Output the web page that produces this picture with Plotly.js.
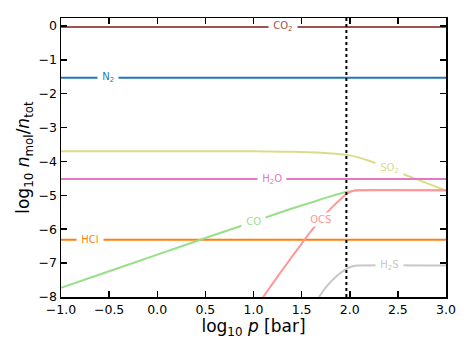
<!DOCTYPE html>
<html><head><meta charset="utf-8">
<script src="https://cdn.plot.ly/plotly-3.0.1.min.js"></script>
<style>html,body{margin:0;padding:0;background:#fff;}#chart{width:474px;height:357px;}</style>
</head><body><div id="chart"></div>
<script>
// Data (log10 p [bar] vs log10 n_mol/n_tot)
const xFlat = [-1, 3];
const co2Y = [-0.03, -0.03];
const n2Y = [-1.53, -1.53];
const h2oY = [-4.52, -4.52];
const hclY = [-6.31, -6.31];

const so2X = [-1, -0.5, 0, 0.5, 1.0, 1.3, 1.5, 1.7, 1.85, 2.0, 2.2, 2.4, 2.6, 2.8, 3.0];
const so2Y = [-3.70, -3.70, -3.70, -3.70, -3.70, -3.71, -3.72, -3.74, -3.77, -3.82, -3.98, -4.20, -4.42, -4.64, -4.86];

const coX = [-1, -0.5, 0, 0.5, 0.8, 1.0, 1.2, 1.4, 1.6, 1.8, 1.95, 2.05, 2.1, 3.0];
const coY = [-7.73, -7.24, -6.75, -6.26, -5.97, -5.78, -5.58, -5.39, -5.21, -5.03, -4.91, -4.86, -4.85, -4.85];

const ocsX = [1.10, 1.2, 1.3, 1.4, 1.53, 1.6, 1.7, 1.8, 1.9, 1.97, 2.03, 2.08, 3.0];
const ocsY = [-8.0, -7.6, -7.2, -6.81, -6.31, -6.05, -5.71, -5.40, -5.12, -4.95, -4.87, -4.85, -4.85];

const h2sX = [1.68, 1.75, 1.85, 1.95, 2.02, 2.08, 3.0];
const h2sY = [-8.0, -7.72, -7.42, -7.20, -7.10, -7.07, -7.07];

const dottedX = [1.965, 1.965];
const dottedY = [-8, 0.25];

const labels = [
  {text: 'CO<sub>2</sub>', x: 1.31, y: -0.03, color: '#a0524d'},
  {text: 'N<sub>2</sub>', x: -0.51, y: -1.53, color: '#1f77b4'},
  {text: 'SO<sub>2</sub>', x: 2.41, y: -4.21, color: '#dbdb8d'},
  {text: 'H<sub>2</sub>O', x: 1.19, y: -4.52, color: '#e377c2'},
  {text: 'CO', x: 1.0, y: -5.77, color: '#98df8a'},
  {text: 'OCS', x: 1.70, y: -5.72, color: '#ff9896'},
  {text: 'HCl', x: -0.70, y: -6.31, color: '#ff7f0e'},
  {text: 'H<sub>2</sub>S', x: 2.41, y: -7.07, color: '#c7c7c7'}
];

const traces = [
  {x: xFlat, y: co2Y, color: '#a0524d', w: 2},
  {x: xFlat, y: n2Y, color: '#1f77b4', w: 2},
  {x: so2X, y: so2Y, color: '#dbdb8d', w: 2},
  {x: xFlat, y: h2oY, color: '#e377c2', w: 2},
  {x: xFlat, y: hclY, color: '#ff7f0e', w: 2},
  {x: coX, y: coY, color: '#98df8a', w: 2},
  {x: ocsX, y: ocsY, color: '#ff9896', w: 2},
  {x: h2sX, y: h2sY, color: '#c7c7c7', w: 2}
].map(t => ({x: t.x, y: t.y, mode: 'lines', line: {color: t.color, width: t.w, shape: 'spline', smoothing: 0.6}, hoverinfo: 'skip', showlegend: false}));

traces.push({x: dottedX, y: dottedY, mode: 'lines', line: {color: '#000', width: 2, dash: 'dot'}, showlegend: false, hoverinfo: 'skip'});

const axisCommon = {
  showline: true, linecolor: '#000', linewidth: 1.5, mirror: 'ticks',
  ticks: 'inside', ticklen: 6, tickwidth: 1.5, tickcolor: '#000',
  showgrid: false, zeroline: false,
  tickfont: {family: 'DejaVu Sans', size: 12.5, color: '#000'}
};

const layout = {
  width: 474, height: 357,
  margin: {l: 61, r: 28, t: 18, b: 60},
  paper_bgcolor: '#fff', plot_bgcolor: '#fff',
  font: {family: 'DejaVu Sans'},
  xaxis: Object.assign({}, axisCommon, {
    range: [-1, 3], tickvals: [-1, -0.5, 0, 0.5, 1, 1.5, 2, 2.5, 3],
    ticktext: ['−1.0', '−0.5', '0.0', '0.5', '1.0', '1.5', '2.0', '2.5', '3.0'],
    title: {text: 'log<sub>10</sub> <i>p</i> [bar]', font: {family: 'DejaVu Sans', size: 17, color: '#000'}, standoff: 3}
  }),
  yaxis: Object.assign({}, axisCommon, {
    range: [-8, 0.235], tickvals: [0, -1, -2, -3, -4, -5, -6, -7, -8],
    title: {text: 'log<sub>10</sub> <i>n</i><sub>mol</sub>/<i>n</i><sub>tot</sub>', font: {family: 'DejaVu Sans', size: 17, color: '#000'}, standoff: 4}
  }),
  annotations: labels.map(l => ({
    x: l.x, y: l.y, xref: 'x', yref: 'y', text: '\u00a0' + l.text + '\u00a0', showarrow: false,
    font: {family: 'DejaVu Sans', size: 10, color: l.color},
    bgcolor: '#fff', borderpad: 1, xanchor: 'center', yanchor: 'middle'
  }))
};

Plotly.newPlot('chart', traces, layout, {staticPlot: true, displayModeBar: false});
</script></body></html>
